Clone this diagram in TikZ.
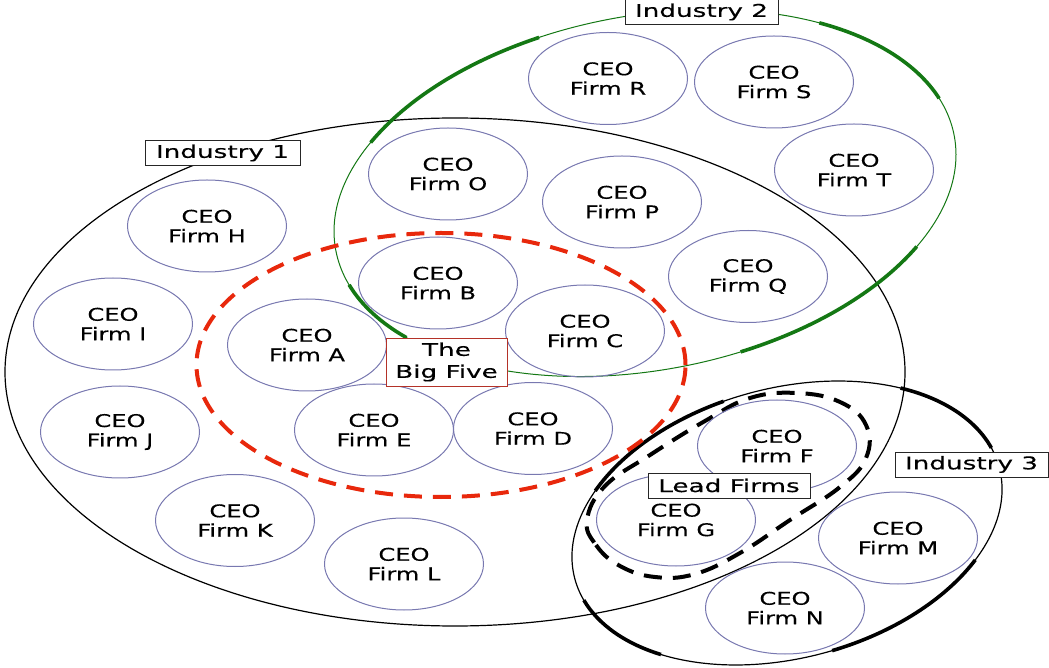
\documentclass[tikz,border=0pt]{standalone}
\usepackage{fontspec}
\setmainfont{DejaVu Sans}[FakeStretch=1.38, FakeBold=0.4]
\newfontfamily\tagfont{DejaVu Sans}[FakeStretch=1.5, FakeBold=0.4]
\usetikzlibrary{shapes.geometric}

\definecolor{firmline}{RGB}{120,120,176}
\definecolor{indgreen}{RGB}{20,120,20}
\definecolor{fivered}{RGB}{232,40,12}
\definecolor{fivebox}{RGB}{180,50,40}

\tikzset{
  firm/.style={ellipse, draw=firmline, line width=1pt, minimum width=159pt,
    minimum height=92pt, inner sep=0pt, align=center,
    font=\fontsize{17.5}{19.5}\selectfont},
  tag/.style={draw=black!85, fill=white, line width=0.9pt, inner sep=0pt,
    minimum height=25pt, font=\tagfont\fontsize{17.5}{22}\selectfont},
  rim/.style={line width=1.2pt},
  heavy/.style={line width=3.6pt},
  ring/.style={line width=4pt, dash pattern=on 18pt off 11pt},
}

\begin{document}
\begin{tikzpicture}[x=1pt,y=1pt]
  \useasboundingbox (0,0) rectangle (1049,667);

  % the three industries
  \draw[rim] (455,295) ellipse [x radius=450, y radius=254];
  \begin{scope}[shift={(645,474)}, rotate=10.4, indgreen]
    \draw[line width=1pt] (0,0) ellipse [x radius=314.5, y radius=177.4];
    \foreach \from/\to in {104/146, 13/50, -78/-35, 192/214}
      \draw[heavy] (\from:314.5 and 177.4)
        arc [start angle=\from, end angle=\to, x radius=314.5, y radius=177.4];
  \end{scope}
  \begin{scope}[shift={(787,144)}, rotate=14.6]
    \draw[rim] (0,0) ellipse [x radius=219.4, y radius=135.1];
    \foreach \from/\to in {98/144, 9/49, -87/-38, 190/225}
      \draw[heavy] (\from:219.4 and 135.1)
        arc [start angle=\from, end angle=\to, x radius=219.4, y radius=135.1];
  \end{scope}

  % groups of firms
  \draw[ring, fivered] (441,302) ellipse [x radius=244.5, y radius=132];
  \draw[ring] plot[smooth cycle, tension=0.7] coordinates {
    (587,147) (596,122) (620,101) (655,90) (695,93) (740,114) (790,147)
    (840,180) (866,209) (866,242) (840,265) (797,274) (750,269) (705,246)
    (650,212) (605,181)};

  \foreach \id/\x/\y in {R/608/588.5, S/774/585, T/854/497, O/448/493,
      P/622/465, Q/748/390.5, H/207/441, B/438/384, C/585/336, A/307/322,
      I/113/343, J/120/235, E/374/237, D/533/238.5, F/777/221, G/676/147,
      K/235/146.5, L/404/103, M/898/129, N/785/59}
    \node[firm] (firm\id) at (\x,\y) {CEO\\Firm \id};

  % labels
  \node[tag, minimum width=153pt] (ind2) at (701.5,655) {Industry 2};
  \node[tag, minimum width=155pt] (ind1) at (222.5,514) {Industry 1};
  \node[tag, minimum width=153pt] (ind3) at (971.5,202.5) {Industry 3};
  \node[tag, minimum width=162pt] (lead) at (729,181.5) {Lead Firms};
  \node[tag, draw=fivebox, minimum width=121pt, minimum height=48pt,
    align=center] (five) at (446.5,305) {The\\Big Five};
\end{tikzpicture}
\end{document}
